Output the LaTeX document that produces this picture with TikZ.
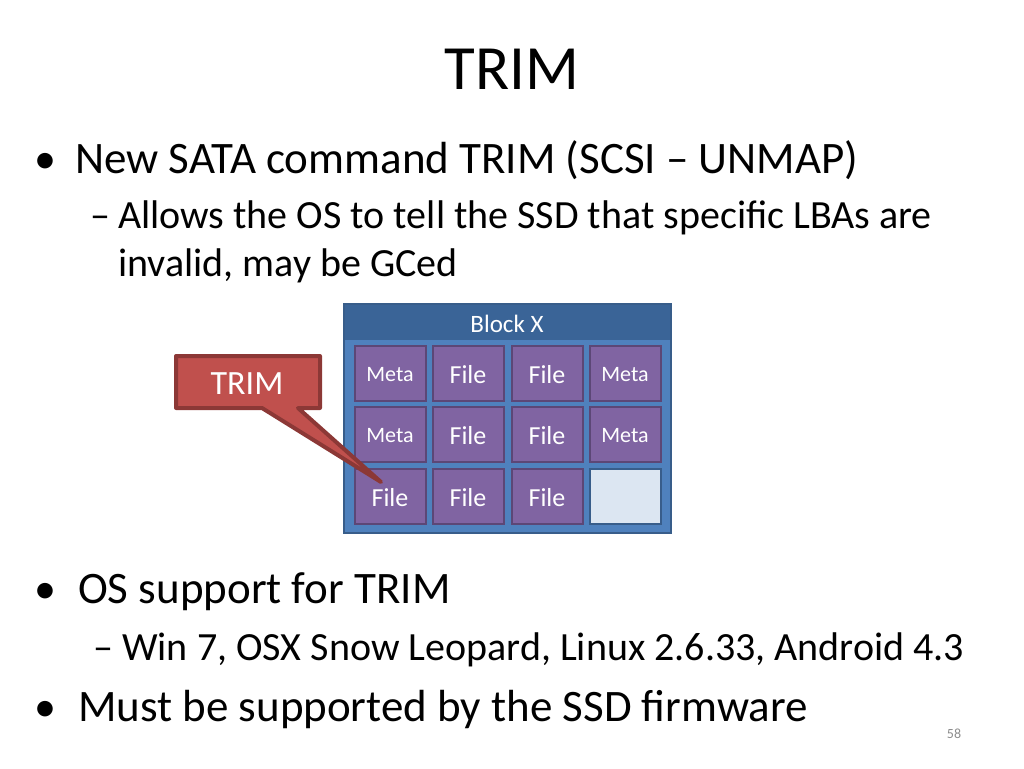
\documentclass[tikz,border=0pt]{standalone}
\usepackage{fontspec}
\setmainfont{Carlito}
\usepackage{xcolor}
\definecolor{hdr}{HTML}{3A6497}
\definecolor{blk}{HTML}{4F81BD}
\definecolor{blkline}{HTML}{385D8A}
\definecolor{cell}{HTML}{8064A2}
\definecolor{cellline}{HTML}{5C4776}
\definecolor{free}{HTML}{DCE6F2}
\definecolor{trim}{HTML}{C0504D}
\definecolor{trimline}{HTML}{8C3836}
\definecolor{pg}{HTML}{8C8C8C}
\tikzset{
  cellbox/.style={draw=cellline, fill=cell, line width=2pt, minimum width=71pt, minimum height=55pt, text=white, inner sep=0pt},
  txt/.style={anchor=base west, inner sep=0pt},
  big/.style={font=\fontsize{45}{50}\selectfont},
  small/.style={font=\fontsize{40}{46}\selectfont},
  dotb/.style={font=\fontsize{44}{50}\selectfont},
  meta/.style={font=\fontsize{22}{26}\selectfont, text=white, yshift=-2pt},
  file/.style={font=\fontsize{26}{30}\selectfont, text=white, yshift=-2pt}
}
\begin{document}
\begin{tikzpicture}[x=1pt,y=-1pt]
  \useasboundingbox (0,0) rectangle (1024,768);
  \node[font=\fontsize{63}{70}\selectfont, anchor=base] (title) at (512,89) {TRIM};

  \node[txt,dotb] (b1dot) at (34,173) {•};
  \node[txt,big] (b1) at (75,173) {New SATA command TRIM (SCSI – UNMAP)};
  \node[txt,small] (s1dash) at (90,228) {–};
  \node[txt,small] (s1) at (118,228) {Allows the OS to tell the SSD that specific LBAs are};
  \node[txt,small] (s1b) at (118,276) {invalid, may be GCed};

  % block
  \draw[blkline, fill=blk, line width=2pt] (344,304) rectangle (671,533);
  \fill[hdr] (345,305) rectangle (670,340);
  \node[text=white, font=\fontsize{25}{28}\selectfont] (blkname) at (507,324) {Block X};
  \foreach \r/\y in {1/373,2/434,3/496}{
    \foreach \c/\x in {1/390,2/468,3/547,4/625}{
      \node[cellbox] (c\r\c) at (\x,\y) {};
    }
  }
  \node[meta] at (c11) {Meta};
  \node[file] at (c12) {File};
  \node[file] at (c13) {File};
  \node[meta] at (c14) {Meta};
  \node[meta] at (c21) {Meta};
  \node[file] at (c22) {File};
  \node[file] at (c23) {File};
  \node[meta] at (c24) {Meta};
  \node[file] at (c31) {File};
  \node[file] at (c32) {File};
  \node[file] at (c33) {File};
  \node[cellbox, fill=free, draw=blkline] at (c34) {};

  % callout
  \coordinate (tip) at (381,482);
  \draw[trimline, fill=trim, line width=4pt, line join=round]
    (176,356) -- (320,356) -- (320,408) -- (298,408) -- (tip) -- (262,408) -- (176,408) -- cycle;
  \node[text=white, font=\fontsize{34}{38}\selectfont] (trimlbl) at (247,384) {TRIM};

  \node[txt,dotb] (b2dot) at (34,603) {•};
  \node[txt,big] (b2) at (78,603) {OS support for TRIM};
  \node[txt,small] (s2dash) at (93,660) {–};
  \node[txt,small] (s2) at (122,660) {Win 7, OSX Snow Leopard, Linux 2.6.33, Android 4.3};
  \node[txt,dotb] (b3dot) at (34,721) {•};
  \node[txt,big] (b3) at (78,721) {Must be supported by the SSD firmware};
  \node[text=pg, font=\fontsize{14}{16}\selectfont] (page) at (954,734) {58};
\end{tikzpicture}
\end{document}
